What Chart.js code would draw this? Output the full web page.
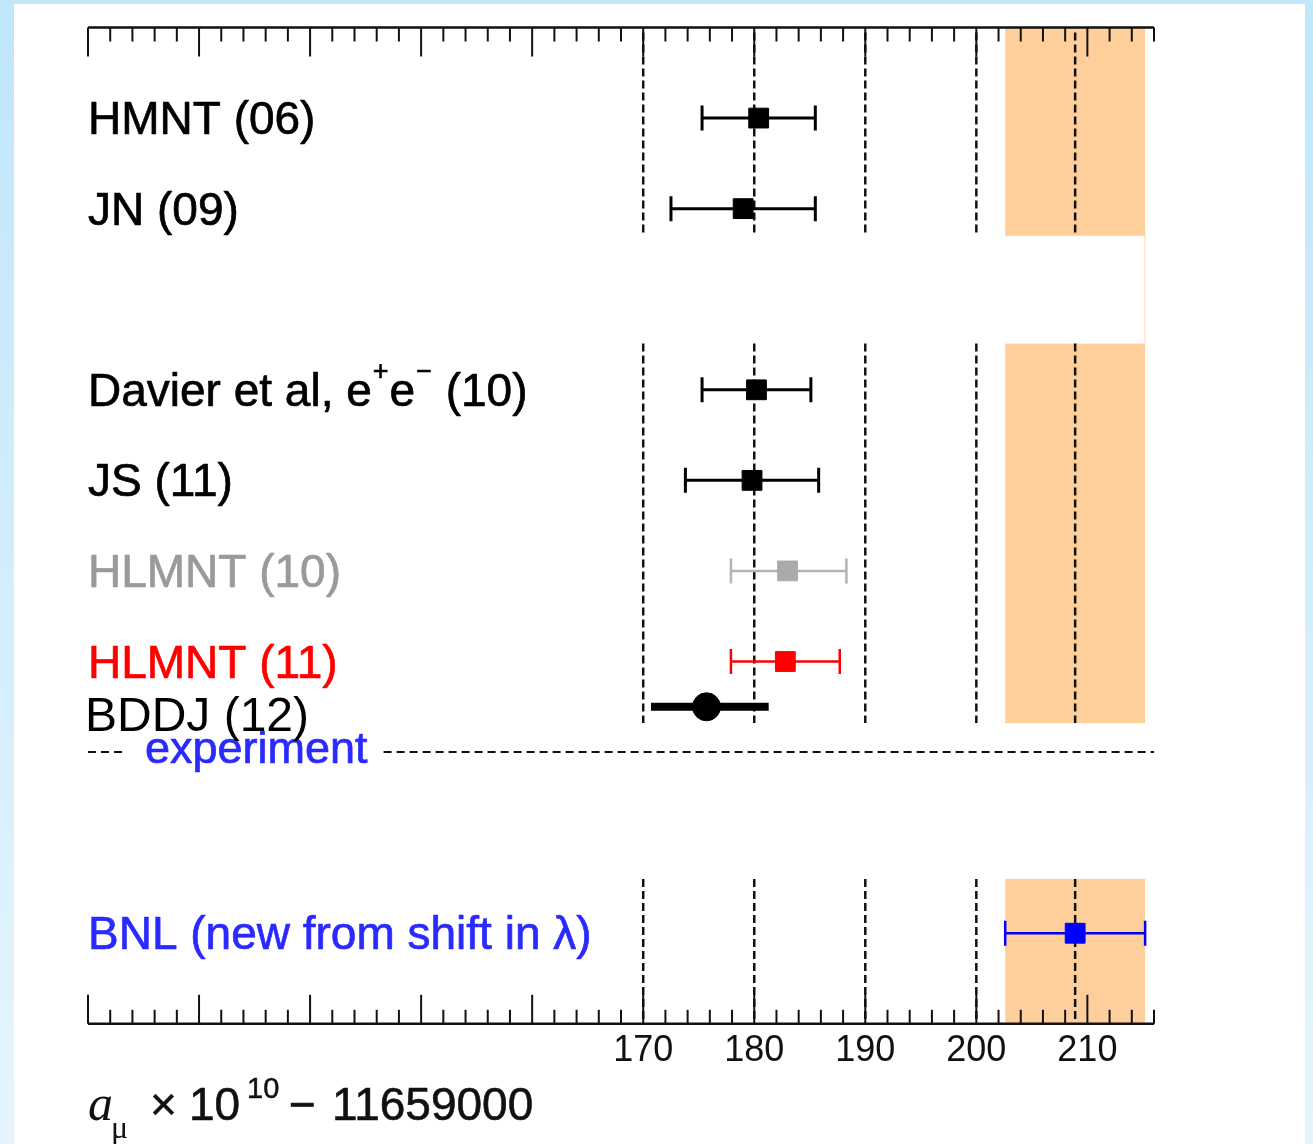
<!DOCTYPE html>
<html><head><meta charset="utf-8">
<script src="https://cdn.jsdelivr.net/npm/chart.js@4.4.1/dist/chart.umd.min.js"></script>
<style>
html,body{margin:0;padding:0;width:1313px;height:1144px;overflow:hidden;background:linear-gradient(180deg,#bfe6fb 0%,#d6effc 60%,#e6f5fd 100%);}
#wrap{position:absolute;left:14px;top:4px;width:1291px;height:1140px;background:#fff;}
canvas{display:block}
</style></head><body><div id="wrap"><canvas id="c" width="1291" height="1140"></canvas></div>
<script>
// ---- data ----
const categories = ["HMNT (06)", "JN (09)", "Davier et al, e⁺e⁻ (10)", "JS (11)", "HLMNT (10)", "HLMNT (11)", "BDDJ (12)", "BNL (new from shift in λ)"];
const rowIndex = [0, 1, 3, 4, 5, 6, 6.5, 9];
const centralValues = [180.4, 179.0, 180.2, 179.8, 183.0, 182.8, 175.7, 208.9];
const lowerErrors = [5.1, 6.5, 4.9, 6.0, 5.1, 4.9, 5.0, 6.3];
const upperErrors = [5.1, 6.5, 4.9, 6.0, 5.3, 4.9, 5.6, 6.3];
const tickLabels = [170, 180, 190, 200, 210];
const guideValues = [170, 180, 190, 200];
const experimentLabel = "experiment";
const experimentRow = 7;
const bnlIndex = 7;

// ---- styles ----
const markerColors = ["#000", "#000", "#000", "#000", "#aaaaaa", "#ff0000", "#000", "#0000ff"];
const barColors = ["#000", "#000", "#000", "#000", "#b4b4b4", "#ff0000", "#000", "#0000ff"];
const labelColors = ["#000", "#000", "#000", "#000", "#9a9a9a", "#ff0000", "#000", "#2a2aff"];
const markerStyles = ["rect", "rect", "rect", "rect", "rect", "rect", "circle", "rect"];
const SANS = '"Liberation Sans", Arial, Helvetica, sans-serif';
const SERIF = '"Liberation Serif", "Times New Roman", serif';
const sections = [[-1, 1.3], [2.49, 6.68], [8.4, 10]];
const bandColor = "#ffcf9b";

const datasets = [];
categories.forEach((c, i) => {
  const lo = centralValues[i] - lowerErrors[i];
  const hi = centralValues[i] + upperErrors[i];
  const circ = markerStyles[i] === "circle";
  datasets.push({
    type: "line", label: c + " err", showLine: true,
    data: [{x: lo, y: rowIndex[i]}, {x: hi, y: rowIndex[i]}],
    borderColor: barColors[i], borderWidth: circ ? 8 : (i >= 4 ? 2.5 : 3),
    borderCapStyle: "butt",
    pointStyle: "line", pointRotation: 90,
    pointRadius: circ ? 0 : 12.5, pointBorderWidth: circ ? 0 : (i >= 4 ? 2.5 : 3),
    pointBorderColor: barColors[i], pointBackgroundColor: barColors[i],
    pointHoverRadius: 0, order: 2
  });
});
categories.forEach((c, i) => {
  const circ = markerStyles[i] === "circle";
  datasets.push({
    type: "scatter", label: c,
    data: [{x: centralValues[i], y: rowIndex[i]}],
    pointStyle: markerStyles[i], pointRadius: circ ? 14 : 14,
    backgroundColor: markerColors[i], borderColor: markerColors[i], borderWidth: 1,
    order: 1
  });
});

function fillHeavy(ctx, s, x, y, color, w) {
  ctx.fillStyle = color; ctx.fillText(s, x, y);
  if (w) { ctx.strokeStyle = color; ctx.lineWidth = w; ctx.lineJoin = "round"; ctx.strokeText(s, x, y); }
}

function drawRich(ctx, text, x, baseline, size, color) {
  let cur = x;
  let buf = "";
  const flush = () => {
    if (!buf) return;
    ctx.font = size + "px " + SANS;
    fillHeavy(ctx, buf, cur, baseline, color, 0.7);
    cur += ctx.measureText(buf).width;
    buf = "";
  };
  for (const ch of text) {
    if (ch === "⁺" || ch === "⁻") {
      flush();
      const s = ch === "⁺" ? "+" : "−";
      ctx.font = Math.round(size * 0.58) + "px " + SANS;
      fillHeavy(ctx, s, cur + 1, baseline - 26, color, 0.6);
      cur += ctx.measureText(s).width + 2;
    } else buf += ch;
  }
  flush();
}

const overlay = {
  id: "overlay",
  beforeDatasetsDraw(chart) {
    const {ctx, chartArea: ca, scales: {x, y}} = chart;
    ctx.save();
    const bx0 = x.getPixelForValue(centralValues[bnlIndex] - lowerErrors[bnlIndex]);
    const bx1 = x.getPixelForValue(centralValues[bnlIndex] + upperErrors[bnlIndex]);
    ctx.fillStyle = bandColor;
    sections.forEach(([a, b]) => {
      const y0 = y.getPixelForValue(a), y1 = y.getPixelForValue(b);
      ctx.fillRect(bx0, y0, bx1 - bx0, y1 - y0);
    });
    ctx.fillStyle = "#ffe6cc";
    ctx.fillRect(bx1 - 1, y.getPixelForValue(sections[0][1]), 1.5, y.getPixelForValue(sections[1][0]) - y.getPixelForValue(sections[0][1]));
    // dashed guide lines
    ctx.strokeStyle = "#111"; ctx.lineWidth = 2.5; ctx.setLineDash([8, 4]);
    [...guideValues, centralValues[bnlIndex]].forEach(v => {
      const px = x.getPixelForValue(v);
      sections.forEach(([a, b], k) => {
        ctx.beginPath();
        ctx.moveTo(px, y.getPixelForValue(a) + (k === 0 ? 5 : 0));
        ctx.lineTo(px, y.getPixelForValue(b) - (k === 0 ? 3 : 0));
        ctx.stroke();
      });
    });
    // experiment line with label
    const ey = y.getPixelForValue(experimentRow);
    ctx.font = "45px " + SANS;
    const tx = ca.left + 57;
    const tw = ctx.measureText(experimentLabel).width;
    ctx.setLineDash([8, 5]); ctx.lineWidth = 2; ctx.strokeStyle = "#111";
    ctx.beginPath(); ctx.moveTo(ca.left, ey); ctx.lineTo(ca.left + 35, ey); ctx.stroke();
    ctx.beginPath(); ctx.moveTo(tx + tw + 16, ey); ctx.lineTo(ca.right, ey); ctx.stroke();
    ctx.setLineDash([]);
    ctx.textBaseline = "alphabetic"; ctx.textAlign = "left";
    fillHeavy(ctx, experimentLabel, tx, ey + 11, "#2a2aff", 0.7);
    // axes frame lines (top and bottom) with inward ticks
    ctx.strokeStyle = "#111"; ctx.lineWidth = 2.5;
    ctx.beginPath(); ctx.moveTo(ca.left, ca.top); ctx.lineTo(ca.right, ca.top); ctx.stroke();
    ctx.beginPath(); ctx.moveTo(ca.left, ca.bottom); ctx.lineTo(ca.right, ca.bottom); ctx.stroke();
    ctx.lineWidth = 2;
    for (let v = x.min; v <= x.max + 1e-9; v += 2) {
      const px = x.getPixelForValue(v);
      const len = (Math.round(v) % 10 === 0) ? 29 : 14;
      ctx.beginPath(); ctx.moveTo(px, ca.top); ctx.lineTo(px, ca.top + len); ctx.stroke();
      ctx.beginPath(); ctx.moveTo(px, ca.bottom); ctx.lineTo(px, ca.bottom - len); ctx.stroke();
    }
    ctx.restore();
  },
  afterDatasetsDraw(chart) {
    const {ctx, chartArea: ca, scales: {x, y}} = chart;
    ctx.save();
    ctx.textAlign = "left"; ctx.textBaseline = "alphabetic";
    categories.forEach((c, i) => {
      const py = y.getPixelForValue(rowIndex[i]);
      if (markerStyles[i] === "circle") {
        ctx.font = "48px " + SANS;
        fillHeavy(ctx, c, ca.left - 3, py + 24, labelColors[i], 0);
      } else {
        drawRich(ctx, c, ca.left, py + 16, 46, labelColors[i]);
      }
    });
    // axis title: a_mu x 10^10 - 11659000
    const base = ca.bottom + 96;
    const L = ca.left;
    ctx.fillStyle = "#111";
    ctx.font = "italic 50px " + SERIF;
    ctx.fillText("a", L, base);
    ctx.font = "32px " + SERIF;
    ctx.fillText("μ", L + 23, base + 18);
    ctx.font = "46px " + SANS;
    fillHeavy(ctx, "×", L + 62, base, "#111", 0.6);
    fillHeavy(ctx, "10", L + 101, base, "#111", 0.6);
    ctx.font = "29px " + SANS;
    fillHeavy(ctx, "10", L + 159, base - 22, "#111", 0.5);
    ctx.font = "46px " + SANS;
    fillHeavy(ctx, "−", L + 201, base, "#111", 0.6);
    fillHeavy(ctx, "11659000", L + 244, base, "#111", 0.6);
    ctx.restore();
  }
};

new Chart(document.getElementById("c"), {
  type: "scatter",
  data: {datasets},
  options: {
    responsive: false, animation: false, events: [],
    layout: {padding: {left: 74, right: 151, top: 23.5, bottom: 65}},
    plugins: {legend: {display: false}, tooltip: {enabled: false}},
    scales: {
      x: {
        type: "linear", min: 120, max: 216, position: "bottom",
        grid: {display: false, drawTicks: false}, border: {display: false},
        ticks: {
          stepSize: 2, autoSkip: false, maxRotation: 0, padding: 6,
          color: "#111", font: {family: SANS, size: 36},
          callback: v => tickLabels.includes(v) ? String(v) : ""
        }
      },
      y: {type: "linear", min: -1, max: 10, reverse: true, display: false}
    }
  },
  plugins: [overlay]
});
</script>
</body></html>
